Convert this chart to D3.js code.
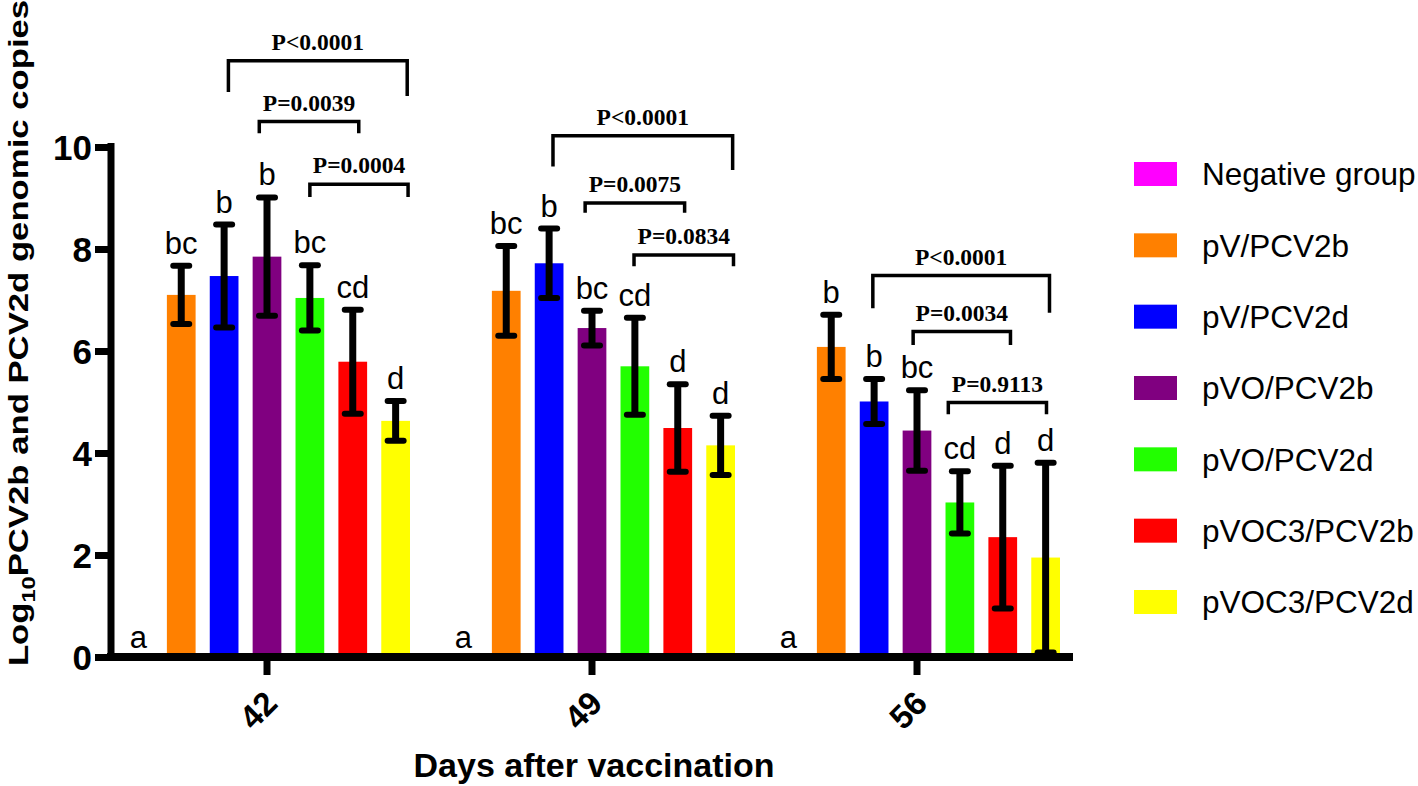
<!DOCTYPE html>
<html>
<head>
<meta charset="utf-8">
<script src="https://cdn.jsdelivr.net/npm/d3@7"></script>
<style>
  html, body { margin: 0; padding: 0; background: #fff; }
  svg { display: block; }
</style>
</head>
<body>
<svg id="chart" width="1418" height="786"></svg>
<script>
// ---------------- DATA ----------------
const categories = ["42", "49", "56"];
const series = ["Negative group", "pV/PCV2b", "pV/PCV2d", "pVO/PCV2b", "pVO/PCV2d", "pVOC3/PCV2b", "pVOC3/PCV2d"];
const colors = ["#ff00ff", "#ff8000", "#0000ff", "#800080", "#22ff00", "#ff0000", "#ffff00"];

const means42 = [0, 7.10, 7.47, 7.85, 7.04, 5.79, 4.63];
const sd42    = [0, 0.57, 1.01, 1.16, 0.64, 1.02, 0.39];
const means49 = [0, 7.18, 7.72, 6.45, 5.70, 4.49, 4.15];
const sd49    = [0, 0.88, 0.68, 0.34, 0.95, 0.86, 0.58];
const means56 = [0, 6.08, 5.01, 4.44, 3.03, 2.35, 1.95];
const sd56    = [0, 0.63, 0.44, 0.79, 0.61, 1.40, 1.86];

const letters42 = ["a", "bc", "b", "b", "bc", "cd", "d"];
const letters49 = ["a", "bc", "b", "bc", "cd", "d", "d"];
const letters56 = ["a", "b", "b", "bc", "cd", "d", "d"];

const yTicks = [0, 2, 4, 6, 8, 10];

// significance brackets: from/to = (fractional) series index, level/drops in data units
const brackets42 = [
  { label: "P<0.0001", from: 2.10, to: 6.27, level: 11.69, dropL: 11.08, dropR: 11.00 },
  { label: "P=0.0039", from: 2.82, to: 5.14, level: 10.50, dropL: 10.27, dropR: 10.27 },
  { label: "P=0.0004", from: 4.00, to: 6.29, level: 9.27,  dropL: 9.02,  dropR: 9.02 }
];
const brackets49 = [
  { label: "P<0.0001", from: 2.09, to: 6.28, level: 10.22, dropL: 9.62, dropR: 9.55 },
  { label: "P=0.0075", from: 2.84, to: 5.16, level: 8.90,  dropL: 8.71, dropR: 8.71 },
  { label: "P=0.0834", from: 3.98, to: 6.30, level: 7.88,  dropL: 7.66, dropR: 7.66 }
];
const brackets56 = [
  { label: "P<0.0001", from: 1.97, to: 6.09, level: 7.48, dropL: 6.84, dropR: 6.75 },
  { label: "P=0.0034", from: 2.91, to: 5.18, level: 6.38, dropL: 6.12, dropR: 6.12 },
  { label: "P=0.9113", from: 3.73, to: 6.02, level: 4.99, dropL: 4.76, dropR: 4.76 }
];

// ---------------- BUILD ----------------
const groups = [
  { cat: categories[0], means: means42, sd: sd42, letters: letters42, brackets: brackets42 },
  { cat: categories[1], means: means49, sd: sd49, letters: letters49, brackets: brackets49 },
  { cat: categories[2], means: means56, sd: sd56, letters: letters56, brackets: brackets56 }
];

const svg = d3.select("#chart");
const sansFont = "'Liberation Sans', Arial, Helvetica, sans-serif";
const serifFont = "'Liberation Serif', 'Times New Roman', serif";

const x0 = d3.scaleBand().domain(categories).range([104.5, 1079.5]).padding(0);
const x1 = d3.scaleBand().domain(series).range([19.5, 305.5]).paddingInner(0.33).paddingOuter(0);
const y = d3.scaleLinear().domain([0, 10]).range([657, 147]);

const posIdx = (cat, i) => x0(cat) + x1(series[0]) + x1.bandwidth() / 2 + i * x1.step();

// bars
const g = svg.append("g");
groups.forEach(grp => {
  const gg = g.append("g");
  const rows = series.map((s, i) => ({ s, i, m: grp.means[i], sd: grp.sd[i], l: grp.letters[i] }));
  gg.selectAll("rect").data(rows.filter(d => d.m > 0)).join("rect")
    .attr("x", d => x0(grp.cat) + x1(d.s))
    .attr("y", d => y(d.m))
    .attr("width", x1.bandwidth())
    .attr("height", d => y(0) - y(d.m))
    .attr("fill", d => colors[d.i]);

  // error bars
  const eb = rows.filter(d => d.m > 0);
  const cx = d => x0(grp.cat) + x1(d.s) + x1.bandwidth() / 2;
  gg.selectAll("line.v").data(eb).join("line").attr("class", "v")
    .attr("x1", cx).attr("x2", cx)
    .attr("y1", d => y(d.m + d.sd)).attr("y2", d => y(Math.max(0, d.m - d.sd)))
    .attr("stroke", "#000").attr("stroke-width", 7);
  gg.selectAll("line.t").data(eb).join("line").attr("class", "t")
    .attr("x1", d => cx(d) - 8).attr("x2", d => cx(d) + 8)
    .attr("y1", d => y(d.m + d.sd)).attr("y2", d => y(d.m + d.sd))
    .attr("stroke", "#000").attr("stroke-width", 6).attr("stroke-linecap", "round");
  gg.selectAll("line.b").data(eb).join("line").attr("class", "b")
    .attr("x1", d => cx(d) - 8).attr("x2", d => cx(d) + 8)
    .attr("y1", d => y(Math.max(0, d.m - d.sd))).attr("y2", d => y(Math.max(0, d.m - d.sd)))
    .attr("stroke", "#000").attr("stroke-width", 6).attr("stroke-linecap", "round");

  // letters
  gg.selectAll("text.let").data(rows).join("text").attr("class", "let")
    .attr("x", d => cx(d))
    .attr("y", d => d.m > 0 ? y(d.m + d.sd) - 12 : y(0) - 9)
    .attr("text-anchor", "middle")
    .attr("font-family", sansFont)
    .attr("font-size", 31)
    .text(d => d.l);

  // brackets
  grp.brackets.forEach(b => {
    const xl = posIdx(grp.cat, b.from), xr = posIdx(grp.cat, b.to);
    gg.append("path")
      .attr("d", `M${xl},${y(b.dropL)}V${y(b.level)}H${xr}V${y(b.dropR)}`)
      .attr("fill", "none").attr("stroke", "#000").attr("stroke-width", 3.5);
    gg.append("text")
      .attr("x", (xl + xr) / 2)
      .attr("y", y(b.level) - 11)
      .attr("text-anchor", "middle")
      .attr("font-family", serifFont)
      .attr("font-weight", "bold")
      .attr("font-size", 23.5)
      .text(b.label);
  });
});

// y axis
const yAxis = svg.append("g")
  .attr("transform", "translate(111,0)")
  .call(d3.axisLeft(y).tickValues(yTicks).tickSize(16).tickSizeOuter(0).tickPadding(3).tickFormat(d3.format("d")));
yAxis.select(".domain").attr("stroke-width", 7).attr("d", `M0,${y(10) - 4}V${y(0) + 4}`);
yAxis.selectAll(".tick line").attr("stroke-width", 7);
yAxis.selectAll(".tick text")
  .attr("font-family", sansFont).attr("font-weight", "bold").attr("font-size", 35)
  .attr("fill", "#000").attr("dy", "0.36em");

// x axis
const xAxis = svg.append("g")
  .attr("transform", `translate(0,${y(0)})`)
  .call(d3.axisBottom(x0).tickSize(18).tickSizeOuter(0).tickPadding(0));
xAxis.select(".domain").attr("stroke-width", 8).attr("d", `M107,0H1073`);
xAxis.selectAll(".tick line").attr("stroke-width", 7);
xAxis.selectAll(".tick text")
  .attr("font-family", sansFont).attr("font-weight", "bold").attr("font-size", 33)
  .attr("fill", "#000")
  .attr("text-anchor", "end")
  .attr("y", 0).attr("dy", "0.35em")
  .attr("transform", "translate(4,40) rotate(-45)");

// axis titles
svg.append("text")
  .attr("x", 594).attr("y", 777)
  .attr("text-anchor", "middle")
  .attr("font-family", sansFont).attr("font-weight", "bold").attr("font-size", 34)
  .text("Days after vaccination");

const yt = svg.append("text")
  .attr("transform", "translate(28,333) rotate(-90) scale(1.24,1)")
  .attr("text-anchor", "middle")
  .attr("font-family", sansFont).attr("font-weight", "bold").attr("font-size", 28);
yt.append("tspan").text("Log");
yt.append("tspan").attr("font-size", 19).attr("dy", 7).text("10");
yt.append("tspan").attr("dy", -7).text("PCV2b and PCV2d genomic copies");

// legend
const legend = svg.append("g").attr("transform", "translate(1134,0)");
const ly = d3.scalePoint().domain(series).range([174, 602]);
legend.selectAll("rect").data(series).join("rect")
  .attr("x", 0).attr("y", d => ly(d) - 12)
  .attr("width", 43).attr("height", 24)
  .attr("fill", (d, i) => colors[i]);
legend.selectAll("text").data(series).join("text")
  .attr("x", 68).attr("y", d => ly(d))
  .attr("dy", "0.36em")
  .attr("font-family", sansFont).attr("font-size", 31.5)
  .text(d => d);
</script>
</body>
</html>
